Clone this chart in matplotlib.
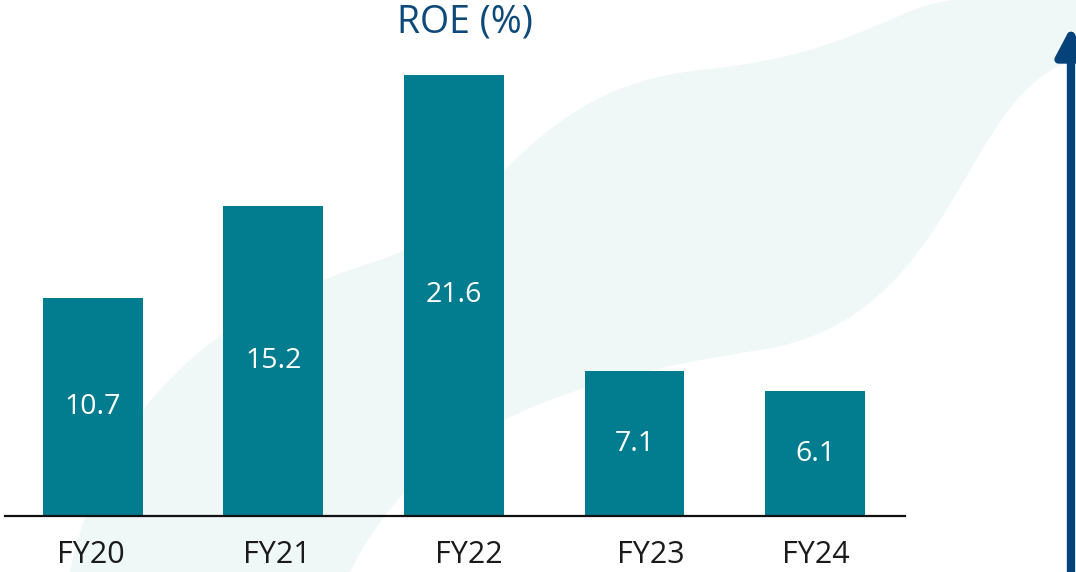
import matplotlib.pyplot as plt
from matplotlib.patches import PathPatch
from matplotlib.path import Path
from matplotlib.transforms import ScaledTranslation

# Dane
years = ['FY20', 'FY21', 'FY22', 'FY23', 'FY24']
roe = [10.7, 15.2, 21.6, 7.1, 6.1]
value_labels = ['10.7', '15.2', '21.6', '7.1', '6.1']

bar_color = '#027d8f'
title_color = '#0d4a7a'
arrow_color = '#054279'

plt.rcParams['font.family'] = ['Open Sans', 'DejaVu Sans']

fig = plt.figure(figsize=(10.76, 5.72), dpi=100)
W, H = 1076, 572

# Tlo - blady znak wodny (gladka fala)
bg = fig.add_axes([0, 0, 1, 1], zorder=0)
bg.set_xlim(0, W)
bg.set_ylim(H, 0)
bg.axis('off')
verts = [(70, 572),
         (110, 380), (250, 300), (380, 260),
         (500, 220), (520, 90), (700, 70),
         (860, 55), (900, 0), (960, 0),
         (1076, 0), (1076, 0), (1076, 0),
         (1076, 60), (1076, 60), (1076, 60),
         (960, 90), (960, 320), (760, 350),
         (560, 380), (420, 430), (350, 572),
         (70, 572)]
codes = [Path.MOVETO] + [Path.CURVE4] * 21 + [Path.CLOSEPOLY]
bg.add_patch(PathPatch(Path(verts, codes), facecolor='#f0f7f7', edgecolor='none'))

# Wykres
ax = fig.add_axes([5 / W, 56 / H, 900 / W, 516 / H], zorder=1)
ax.patch.set_alpha(0)
x = list(range(len(years)))
bars = ax.bar(x, roe, width=0.554, color=bar_color, zorder=2)
ax.set_xlim(-0.4875, 4.4986)
ax.set_ylim(0, 25.27)

for b, lab in zip(bars, value_labels):
    ax.text(b.get_x() + b.get_width() / 2, b.get_height() / 2, lab,
            ha='center', va='center', color='white', fontsize=20.5, zorder=3)

for s in ['top', 'right', 'left']:
    ax.spines[s].set_visible(False)
ax.spines['bottom'].set_linewidth(1.6)
ax.spines['bottom'].set_color('#111111')
ax.set_yticks([])
ax.set_xticks(x)
ax.set_xticklabels(years, fontsize=22, color='#1a1a1a')
ax.tick_params(axis='x', length=0, pad=17)

# przesuniecia etykiet osi (px)
shifts = [-2, 3, 15, 16, 1]
for lbl, dx in zip(ax.get_xticklabels(), shifts):
    lbl.set_transform(lbl.get_transform() + ScaledTranslation(dx / 100, 0, fig.dpi_scale_trans))

fig.text(465 / W, 1 - 23 / H, 'ROE (%)', ha='center', va='center',
         fontsize=27, color=title_color)

# Strzalka po prawej
bg.annotate('', xy=(1071, 27), xytext=(1071, 575),
            arrowprops=dict(arrowstyle='-|>,head_length=1.7,head_width=0.9',
                            color=arrow_color, lw=6, shrinkA=0, shrinkB=0))

fig.savefig('out.png', dpi=100)
